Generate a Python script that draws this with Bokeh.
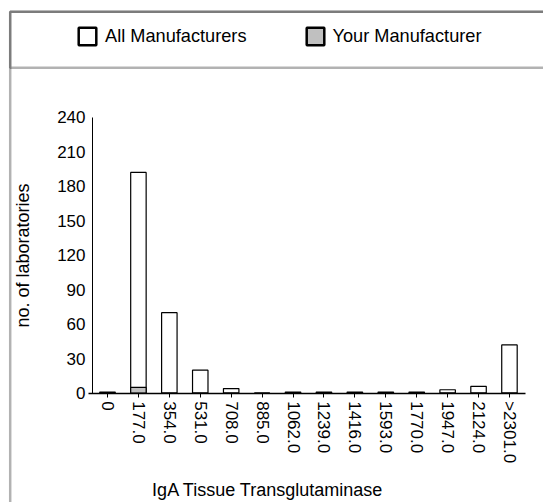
from bokeh.plotting import figure
from bokeh.models import (Range1d, FixedTicker, BoxAnnotation, Legend, LegendItem,
                          Label, ColumnDataSource)
from bokeh.embed import file_html
from bokeh.resources import INLINE

# ---- data ----
categories = ["0", "177.0", "354.0", "531.0", "708.0", "885.0", "1062.0", "1239.0",
              "1416.0", "1593.0", "1770.0", "1947.0", "2124.0", ">2301.0"]
all_manufacturers = [1, 192, 70, 20, 4, 0, 1, 1, 1, 1, 1, 3, 6, 42]
your_manufacturer = [0, 5, 0, 0, 0, 0, 0, 0, 0, 0, 0, 0, 0, 0]
y_ticks = [0, 30, 60, 90, 120, 150, 180, 210, 240]
x_title = "IgA Tissue Transglutaminase"
y_title = "no. of laboratories"
legend_labels = ["All Manufacturers", "Your Manufacturer"]

FONT = "Liberation Sans"
W, H = 543, 502

# layout: pixel geometry of the plotting area (frame fills the whole canvas)
X0_PX, DX_PX = 107.0, 30.92      # centre of first category, spacing
Y0_PX, DY_PX = 392.7, 1.15       # baseline, pixels per unit


def sx(px):
    return (px - X0_PX) / DX_PX


def sy(py):
    return (Y0_PX - py) / DY_PX


idx = list(range(len(categories)))

p = figure(width=W, height=H, x_range=Range1d(sx(0), sx(W)),
           y_range=Range1d(sy(H), sy(0)), output_backend="svg",
           toolbar_location=None, min_border=0)
p.outline_line_color = None
p.xgrid.grid_line_color = None
p.ygrid.grid_line_color = None
p.background_fill_color = "white"
p.border_fill_color = "white"

src_all = ColumnDataSource(dict(x=idx, top=all_manufacturers))
src_you = ColumnDataSource(dict(x=idx, top=your_manufacturer))
p.vbar(x="x", top="top", width=0.5, source=src_all, fill_color="white",
       line_color="black", line_width=1.2)
p.vbar(x="x", top="top", width=0.5, source=src_you, fill_color="#c0c0c0",
       line_color="black", line_width=1.2)

# axes
yax = p.yaxis[0]
yax.fixed_location = sx(92)
yax.bounds = (y_ticks[0], y_ticks[-1])
yax.ticker = FixedTicker(ticks=y_ticks)
yax.axis_label = y_title
yax.axis_label_text_font = FONT
yax.axis_label_text_font_size = "18px"
yax.axis_label_text_font_style = "normal"
yax.axis_label_text_color = "black"
yax.axis_label_standoff = 21
yax.major_label_text_font = FONT
yax.major_label_text_font_size = "17px"
yax.major_label_text_color = "black"
yax.major_label_standoff = 7
yax.major_tick_out = 0
yax.major_tick_in = 0
yax.minor_tick_out = 0
yax.minor_tick_in = 0
yax.axis_line_color = "black"
yax.axis_line_width = 1

xax = p.xaxis[0]
xax.fixed_location = 0
xax.bounds = (sx(88), sx(525))
xax.ticker = FixedTicker(ticks=idx)
xax.major_label_overrides = {i: c for i, c in zip(idx, categories)}
xax.major_label_orientation = "vertical"
xax.major_label_text_font = FONT
xax.major_label_text_font_size = "17px"
xax.major_label_text_color = "black"
xax.major_label_standoff = 4
xax.major_tick_out = 4
xax.major_tick_in = 0
xax.minor_tick_out = 0
xax.minor_tick_in = 0
xax.major_tick_line_color = "black"
xax.axis_line_color = "black"
xax.axis_line_width = 1.6

p.add_layout(Label(x=sx(267.5), y=sy(489), text=x_title, text_align="center",
                   text_baseline="middle", text_font=FONT, text_font_size="18px",
                   text_color="black"))

# outer frame and legend strip
p.add_layout(BoxAnnotation(left=sx(9.7), right=sx(W + 20), top=sy(11.3),
                           bottom=sy(H + 20), fill_alpha=0, line_color="black",
                           line_width=2.5))
p.add_layout(BoxAnnotation(left=sx(9.7), right=sx(W + 20), top=sy(11.3),
                           bottom=sy(67.2), fill_alpha=0, line_color="black",
                           line_width=2.5))

# legend glyph renderers (a single NaN point, so nothing is drawn in the plot)
nan = float("nan")
leg_src1 = ColumnDataSource(dict(x=[nan], top=[nan]))
leg_src2 = ColumnDataSource(dict(x=[nan], top=[nan]))
r1 = p.vbar(x="x", top="top", width=0.5, source=leg_src1, fill_color="white",
            line_color="black", line_width=2.5)
r2 = p.vbar(x="x", top="top", width=0.5, source=leg_src2, fill_color="#c0c0c0",
            line_color="black", line_width=2.5)
GLYPH = 22   # Bokeh insets area legend glyphs by 10% on each side -> ~18px square
legend = Legend(items=[LegendItem(label=legend_labels[0], renderers=[r1]),
                       LegendItem(label=legend_labels[1], renderers=[r2])],
                orientation="horizontal", location=(76, H - 47),
                glyph_width=GLYPH, glyph_height=GLYPH, label_standoff=7,
                spacing=57, padding=0, margin=0, border_line_alpha=0,
                background_fill_alpha=0, label_text_font=FONT,
                label_text_font_size="18.2px", label_height=GLYPH,
                label_text_color="black")
p.add_layout(legend, "center")

open("out.html", "w").write(file_html(p, INLINE))
